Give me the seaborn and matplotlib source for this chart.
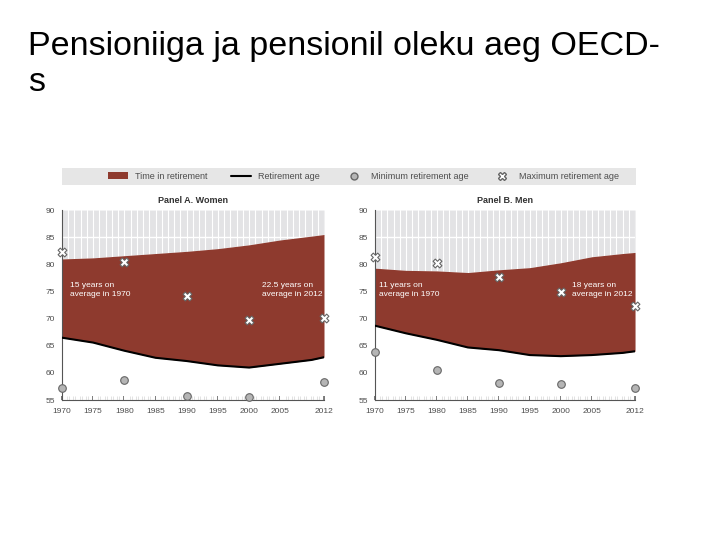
import numpy as np
import pandas as pd
import matplotlib
matplotlib.use("Agg")
import matplotlib.pyplot as plt
import seaborn as sns
from matplotlib.patches import Rectangle, Patch
from matplotlib.lines import Line2D

sns.set_theme(style="white")
plt.rcParams["font.family"] = ["Liberation Sans Narrow", "Liberation Sans", "DejaVu Sans"]

# years for the retirement-age / life-expectancy curves
years = [1970, 1975, 1980, 1985, 1990, 1995, 2000, 2005, 2010, 2012]

women_ret_age = [66.5, 65.6, 64.1, 62.8, 62.2, 61.4, 61.0, 61.7, 62.4, 62.9]
women_life = [81.0, 81.2, 81.6, 82.0, 82.4, 82.9, 83.6, 84.5, 85.2, 85.5]
men_ret_age = [68.7, 67.3, 66.1, 64.7, 64.2, 63.3, 63.1, 63.3, 63.7, 64.0]
men_life = [79.3, 78.9, 78.8, 78.5, 79.0, 79.4, 80.3, 81.4, 82.0, 82.2]

# min / max retirement age markers
marker_years = [1970, 1980, 1990, 2000, 2012]
women_min = [57.2, 58.8, 55.8, 55.6, 58.4]
women_max = [82.3, 80.5, 74.2, 69.7, 70.2]
men_min = [63.9, 60.5, 58.1, 57.9, 57.2]
men_max = [81.3, 80.3, 77.7, 75.0, 72.3]

x_ticks = [1970, 1975, 1980, 1985, 1990, 1995, 2000, 2005, 2012]
y_ticks = [55, 60, 65, 70, 75, 80, 85, 90]

RED = "#8e3a2e"
GREY_BG = "#e3e3e5"
TXT = "#4d4d4d"

fig = plt.figure(figsize=(7.2, 5.4), dpi=100)

fig.text(0.039, 0.942, "Pensioniiga ja pensionil oleku aeg OECD-\ns",
         fontsize=24.5, family=["Liberation Sans", "DejaVu Sans"],
         va="top", ha="left", color="black", linespacing=1.2)

# legend band
fig.patches.append(Rectangle((0.086, 0.657), 0.797, 0.032, transform=fig.transFigure,
                             facecolor="#e6e6e6", edgecolor="none", zorder=0))
handles = [
    Patch(facecolor=RED, edgecolor="none", label="Time in retirement"),
    Line2D([], [], color="black", lw=1.5, label="Retirement age"),
    Line2D([], [], marker="o", ls="none", markersize=5, markerfacecolor="#b5b5b5",
           markeredgecolor="#666666", label="Minimum retirement age"),
    Line2D([], [], marker="X", ls="none", markersize=6, markerfacecolor="white",
           markeredgecolor="#666666", label="Maximum retirement age"),
]
fig.legend(handles=handles, loc="center", bbox_to_anchor=(0.505, 0.673), ncol=4,
           frameon=False, fontsize=6.5, handlelength=2.2, columnspacing=2.6,
           labelcolor=TXT, handleheight=0.8)

panels = [
    ([0.086, 0.259, 0.364, 0.352], "Panel A. Women", women_ret_age, women_life,
     women_min, women_max, ["15 years on\naverage in 1970", "22.5 years on\naverage in 2012"],
     [1971.3, 2002.1]),
    ([0.521, 0.259, 0.361, 0.352], "Panel B. Men", men_ret_age, men_life,
     men_min, men_max, ["11 years on\naverage in 1970", "18 years on\naverage in 2012"],
     [1970.6, 2001.8]),
]

for rect, title, ret, life, mn, mx, notes, note_x in panels:
    ax = fig.add_axes(rect)
    df = pd.DataFrame({"year": years, "ret": ret, "life": life})
    ax.set_facecolor("white")
    ax.fill_between(df["year"], df["life"], 90, color=GREY_BG, lw=0, zorder=1)
    for yr in range(1970, 2013):
        ax.axvline(yr, color="white", lw=0.8, zorder=1.5)
    ax.axhline(85, color="white", lw=1.0, zorder=1.5)
    ax.fill_between(df["year"], df["ret"], df["life"], color=RED, lw=0, zorder=2)
    sns.lineplot(data=df, x="year", y="ret", color="black", lw=1.5, ax=ax, zorder=3)

    mk = pd.DataFrame({"year": marker_years, "min": mn, "max": mx})
    sns.scatterplot(data=mk, x="year", y="min", ax=ax, marker="o", s=30,
                    color="#b5b5b5", edgecolor="#666666", linewidth=0.8,
                    zorder=4, clip_on=False)
    sns.scatterplot(data=mk, x="year", y="max", ax=ax, marker="X", s=40,
                    color="white", edgecolor="#666666", linewidth=0.8,
                    zorder=4, clip_on=False)

    for txt, tx in zip(notes, note_x):
        ax.text(tx, 75.3, txt, color="white", fontsize=6, va="center", ha="left",
                zorder=5, linespacing=1.3)

    ax.set_xlim(1970, 2012)
    ax.set_ylim(55, 90)
    ax.set_xticks(x_ticks)
    ax.set_xticks(range(1970, 2013), minor=True)
    ax.set_yticks(y_ticks)
    ax.tick_params(axis="both", labelsize=6, labelcolor=TXT)
    ax.tick_params(axis="x", which="both", direction="in", length=3, color="#666666",
                   bottom=True, pad=6)
    ax.tick_params(axis="y", length=0, pad=5)
    ax.set_xlabel("")
    ax.set_ylabel("")
    for side in ["top", "right"]:
        ax.spines[side].set_visible(False)
    for side in ["left", "bottom"]:
        ax.spines[side].set_color("#555555")
        ax.spines[side].set_linewidth(0.8)
    ax.set_title(title, fontsize=6.5, fontweight="bold", color="#333333", pad=5)

fig.savefig("out.png", dpi=100)
